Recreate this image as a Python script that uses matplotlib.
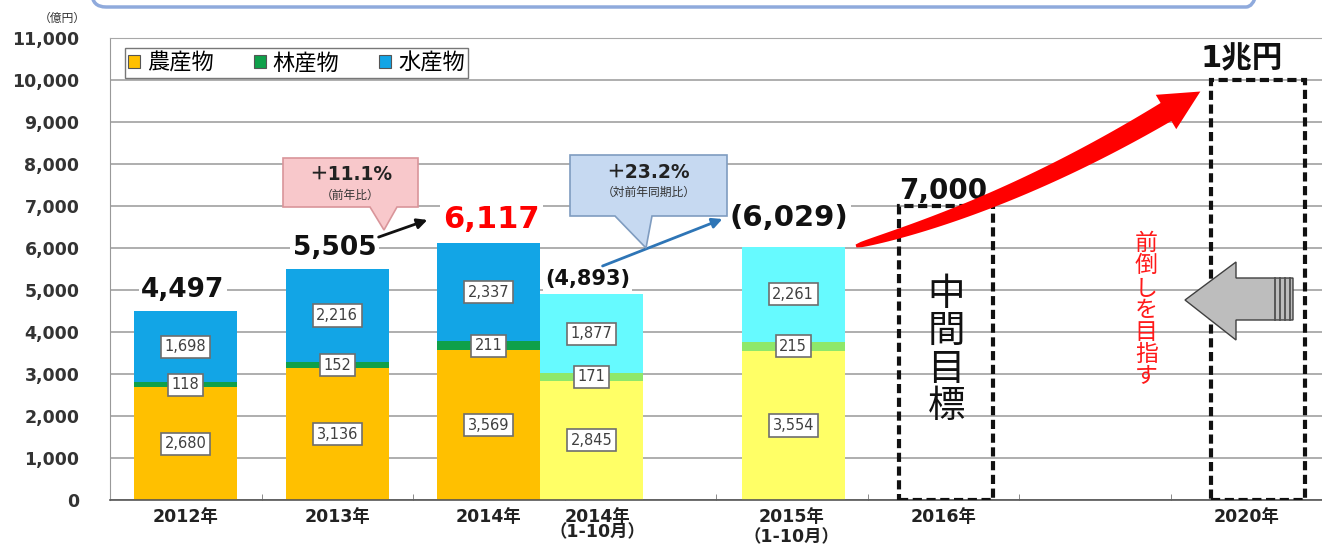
import numpy as np
import matplotlib.pyplot as plt
from matplotlib.patches import Rectangle, Polygon, FancyBboxPatch

CJK = ['Noto Sans CJK JP', 'DejaVu Sans']
NUM = ['DejaVu Sans', 'Noto Sans CJK JP']

# 農林水産物・食品の輸出額 (億円)
years = ['2012年', '2013年', '2014年', '2014年\n（1-10月）', '2015年\n（1-10月）', '2016年', '2020年']
series = ['農産物', '林産物', '水産物']
agri = [2680, 3136, 3569, 2845, 3554]
forest = [118, 152, 211, 171, 215]
fish = [1698, 2216, 2337, 1877, 2261]
totals = ['4,497', '5,505', '6,117', '(4,893)', '(6,029)']
targets = [7000, 10000]
target_labels = ['7,000', '1兆円']
growth = ['＋11.1%', '＋23.2%']
growth_notes = ['（前年比）', '（対前年同期比）']
yticks = list(range(0, 11001, 1000))

# layout (category slots)
bar_x = [0, 1, 2, 2.68, 4.01]
target_x = [5.02, 7.08]
label_x = [0, 1, 2, 2.72, 4.0, 5.0, 7.0]
partial = [False, False, False, True, True]

full_colors = ['#FFC000', '#0FA04A', '#12A5E6']
part_colors = ['#FFFF66', '#8EE86A', '#66FAFF']


def px_axes(fig):
    # overlay axes in picture pixels for the drawn decorations
    ov = fig.add_axes([0, 0, 1, 1], zorder=5)
    ov.set_xlim(0, 1322)
    ov.set_ylim(550, 0)
    ov.axis('off')
    return ov


def seg_label(ax, x, y, v):
    ax.text(x, y, f'{v:,}', ha='center', va='center', fontsize=10.5, color='#404040',
            zorder=4, bbox=dict(boxstyle='square,pad=0.25', fc='white', ec='#6E6E6E', lw=1.2))


def red_arrow(ov):
    p0 = np.array([856.0, 246.0])
    p1 = np.array([1010.0, 205.0])
    p2 = np.array([1166.0, 112.0])
    t = np.linspace(0, 1, 60)[:, None]
    pts = (1 - t) ** 2 * p0 + 2 * t * (1 - t) * p1 + t ** 2 * p2
    d = 2 * (1 - t) * (p1 - p0) + 2 * t * (p2 - p1)
    d = d / np.linalg.norm(d, axis=1)[:, None]
    n = np.column_stack([-d[:, 1], d[:, 0]])
    w = 1.5 + 9.0 * np.sqrt(t)
    upper = pts + n * w
    lower = pts - n * w
    dend = d[-1]
    nend = n[-1]
    tip = p2 + dend * 40
    head = [p2 + nend * 20, tip, p2 - nend * 20]
    poly = np.vstack([upper, head, lower[::-1]])
    ov.add_patch(Polygon(poly, closed=True, fc='#FF0000', ec='none', zorder=6))


def gray_arrow(ov):
    pts = [(1185, 300), (1236, 262), (1236, 278), (1293, 278), (1293, 320), (1236, 320), (1236, 340)]
    ov.add_patch(Polygon(pts, closed=True, fc='#BDBDBD', ec='#404040', lw=1.0, zorder=6))
    for xs in [1275, 1280, 1285, 1290]:
        ov.plot([xs, xs], [278, 320], color='#505050', lw=1.3, zorder=7)


def callout(ov, box, tail, fc, ec, title, note):
    x0, y0, x1, y1 = box
    a, tip, b = tail
    pts = [(x0, y0), (x1, y0), (x1, y1), (b, y1), tip, (a, y1), (x0, y1)]
    ov.add_patch(Polygon(pts, closed=True, fc=fc, ec=ec, lw=1.2, zorder=6))
    cx = (x0 + x1) / 2
    ov.text(cx, y0 + 17, title, ha='center', va='center', fontsize=13.5, fontweight='bold',
            family=NUM, color='#222222', zorder=7)
    ov.text(cx, y0 + 37, note, ha='center', va='center', fontsize=8.5,
            family=CJK, color='#333333', zorder=7)


def main():
    fig = plt.figure(figsize=(13.22, 5.5), dpi=100)
    ax = fig.add_axes([110 / 1322, 50 / 550, 1212 / 1322, 462 / 550])

    bottoms = np.zeros(len(agri))
    handles = []
    for k, vals in enumerate([agri, forest, fish]):
        vals = np.array(vals)
        cols = [part_colors[k] if p else full_colors[k] for p in partial]
        ax.bar(bar_x, vals, 0.68, bottom=bottoms, color=cols, edgecolor='none', zorder=2)
        handles.append(Rectangle((0, 0), 1, 1, fc=full_colors[k], ec='#555555', lw=0.8, label=series[k]))
        for x, b, v in zip(bar_x, bottoms, vals):
            seg_label(ax, x, b + v / 2, v)
        bottoms = bottoms + vals

    # totals above bars
    tot_size = [19, 19, 22, 15, 21]
    tot_color = ['#111111', '#111111', '#FF0000', '#111111', '#111111']
    tot_dy = [15, 15, 17, 11, 21]
    tot_dx = [-2, -2, 2, -3, -3]
    for i, s in enumerate(totals):
        ax.annotate(s, (bar_x[i], bottoms[i]), xytext=(tot_dx[i], tot_dy[i]), textcoords='offset points',
                    ha='center', va='center', fontsize=tot_size[i], fontweight='bold',
                    color=tot_color[i], family=NUM, zorder=4,
                    bbox=dict(boxstyle='square,pad=0.1', fc='white', ec='none'))

    # target boxes
    for x, v in zip(target_x, targets):
        ax.add_patch(Rectangle((x - 0.31, 0), 0.62, v, fill=False, ec='#111111', lw=3,
                               ls=(0, (2.2, 1.1)), zorder=3))
    ax.annotate(target_labels[0], (target_x[0], targets[0]), xytext=(-2, 11), textcoords='offset points',
                ha='center', va='center', fontsize=20, fontweight='bold', family=NUM, color='#111111')
    ax.annotate(target_labels[1], (target_x[1], targets[1]), xytext=(-12, 15), textcoords='offset points',
                ha='center', va='center', fontsize=22, fontweight='bold', family=NUM, color='#111111')
    ax.text(target_x[0], 3560, '中\n間\n目\n標', ha='center', va='center', fontsize=27,
            linespacing=0.95, family=CJK, color='#111111', zorder=4)
    ax.text(6.34, 4520, '前\n倒\nし\nを\n目\n指\nす', ha='center', va='center', fontsize=16.5,
            linespacing=0.95, family=CJK, color='#FF1A1A', zorder=4)

    ax.set_xlim(-0.5, 7.474)
    ax.set_ylim(0, 11000)
    ax.set_yticks(yticks)
    ax.set_yticklabels([f'{v:,}' for v in yticks], fontsize=12.5, fontweight='bold', color='#333333')
    ax.tick_params(axis='y', length=0, pad=22)
    ax.set_xticks(label_x)
    ax.set_xticklabels(years, fontsize=12.5, fontweight='bold', family=NUM, color='#222222')
    ax.tick_params(axis='x', which='major', length=0, pad=6)
    ax.set_xticks(np.arange(-0.5, 8, 1), minor=True)
    ax.tick_params(axis='x', which='minor', direction='in', length=4, color='#777777')
    lbls = ax.get_xticklabels()
    lbls[3].set_linespacing(0.75)
    lbls[4].set_linespacing(1.15)
    ax.yaxis.grid(True, color='#A8A8A8', lw=1.3)
    ax.set_axisbelow(True)
    ax.spines['right'].set_visible(False)
    ax.spines['top'].set_color('#A8A8A8')
    ax.spines['left'].set_color('#999999')
    ax.spines['bottom'].set_color('#555555')
    ax.spines['bottom'].set_linewidth(1.2)

    leg = ax.legend(handles=handles, loc='upper left', bbox_to_anchor=(0.012, 0.978), ncol=3,
                    prop=dict(family=CJK, size=16), frameon=True, fancybox=False, edgecolor='#555555',
                    handlelength=0.55, handleheight=0.55, handletextpad=0.3, columnspacing=1.8,
                    borderpad=0.15, borderaxespad=0)
    leg.get_frame().set_linewidth(1.0)

    ov = px_axes(fig)
    ov.add_patch(FancyBboxPatch((92, -60), 1168, 67, boxstyle='round,pad=0,rounding_size=14',
                                fc='none', ec='#8FAADC', lw=2.5, zorder=6))
    ov.text(62, 18, '（億円）', ha='center', va='center', fontsize=8.5, family=CJK, color='#333333')
    callout(ov, (283, 158, 418, 207), (370, (384, 230), 397), '#F8C8CB', '#D9959A', growth[0], growth_notes[0])
    callout(ov, (570, 155, 727, 216), (615, (646, 248), 652), '#C6D9F1', '#7F9CC0', growth[1], growth_notes[1])
    ov.annotate('', xy=(430, 219), xytext=(376, 238),
                arrowprops=dict(arrowstyle='-|>,head_length=0.6,head_width=0.3', color='#111111', lw=2))
    ov.annotate('', xy=(725, 218), xytext=(600, 267),
                arrowprops=dict(arrowstyle='-|>,head_length=0.6,head_width=0.3', color='#2E75B6', lw=2))
    red_arrow(ov)
    gray_arrow(ov)

    fig.savefig('out.png', dpi=100)


if __name__ == '__main__':
    main()
